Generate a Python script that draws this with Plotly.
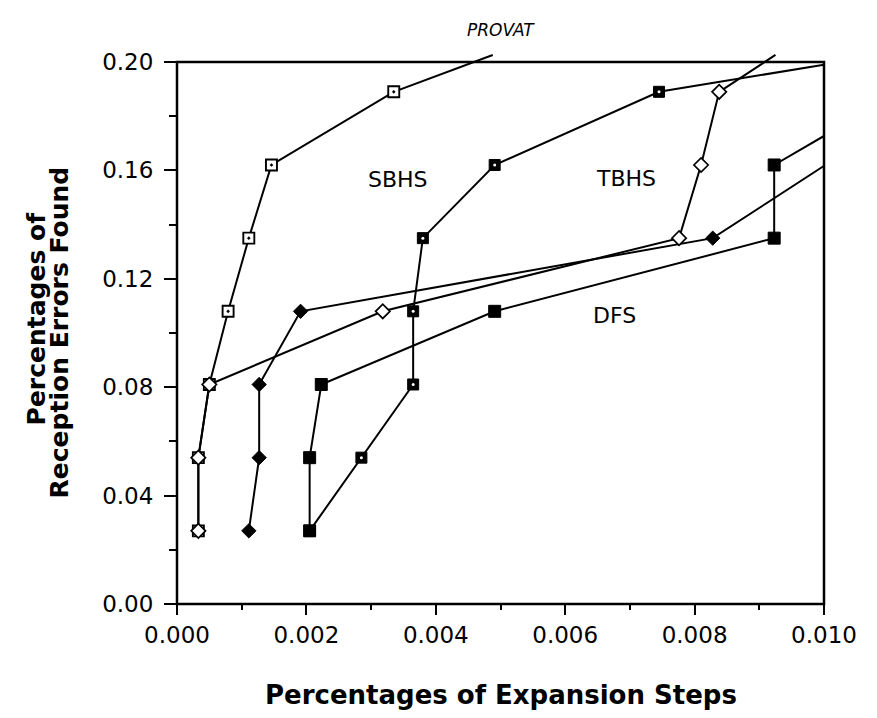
import plotly.graph_objects as go

# ---- data ----
x_ticks = [0.000, 0.002, 0.004, 0.006, 0.008, 0.010]
x_tick_labels = ["0.000", "0.002", "0.004", "0.006", "0.008", "0.010"]
y_ticks = [0.00, 0.04, 0.08, 0.12, 0.16, 0.20]
y_tick_labels = ["0.00", "0.04", "0.08", "0.12", "0.16", "0.20"]

# last point of some series is only the continuation of the line (no marker)
sbhs_x = [0.00033, 0.00033, 0.00050, 0.00079, 0.00111, 0.00146, 0.00335, 0.00488]
sbhs_y = [0.027, 0.054, 0.081, 0.108, 0.135, 0.162, 0.189, 0.2026]

odia_x = [0.00033, 0.00033, 0.00050, 0.00318, 0.00776, 0.00810, 0.00838, 0.00925]
odia_y = [0.027, 0.054, 0.081, 0.108, 0.135, 0.162, 0.189, 0.2026]

ds_x = [0.00111, 0.00127, 0.00127, 0.00191, 0.00828, 0.01002]
ds_y = [0.027, 0.054, 0.081, 0.108, 0.135, 0.162]

tbhs_x = [0.00205, 0.00285, 0.00365, 0.00365, 0.00380, 0.00491, 0.00745, 0.01000]
tbhs_y = [0.027, 0.054, 0.081, 0.108, 0.135, 0.162, 0.189, 0.199]

dfs_x = [0.00205, 0.00205, 0.00223, 0.00491, 0.00923, 0.00923, 0.01000]
dfs_y = [0.027, 0.054, 0.081, 0.108, 0.135, 0.162, 0.1727]

labels = ["SBHS", "TBHS", "DFS", "DS"]
label_x = [0.00341, 0.00694, 0.00676, 0.01023]
label_y = [0.1565, 0.157, 0.1066, 0.162]

X_MAX = 0.010
Y_MAX = 0.20
Y_TOP = 0.20295   # a little headroom so the lines can run past the frame

BLACK = "black"
LW = 2

fig = go.Figure()

def line(xs, ys):
    fig.add_trace(go.Scatter(x=xs, y=ys, mode="lines",
                             line=dict(color=BLACK, width=LW),
                             cliponaxis=False, showlegend=False, hoverinfo="skip"))

def marks(xs, ys, symbol, color, lcolor, size, lw=1.5):
    fig.add_trace(go.Scatter(x=xs, y=ys, mode="markers",
                             marker=dict(symbol=symbol, color=color, size=size,
                                         line=dict(color=lcolor, width=lw)),
                             cliponaxis=False, showlegend=False))

# lines
line(sbhs_x, sbhs_y)
line(odia_x, odia_y)
line(ds_x, ds_y)
line(tbhs_x, tbhs_y)
line(dfs_x, dfs_y)

# markers
marks(sbhs_x[:-1], sbhs_y[:-1], "square-dot", "white", BLACK, 11, 1.9)
marks(odia_x[:-1], odia_y[:-1], "diamond", "white", BLACK, 11, 1.7)
marks(ds_x, ds_y, "diamond", BLACK, BLACK, 11, 1)
marks(tbhs_x[:-1], tbhs_y[:-1], "square", BLACK, BLACK, 11, 1)
marks(tbhs_x[:-1], tbhs_y[:-1], "circle", "white", "white", 3, 0)
marks(dfs_x[:-1], dfs_y[:-1], "square", BLACK, BLACK, 12, 1)

FONT = "DejaVu Sans"

for t, xv, yv in zip(labels, label_x, label_y):
    fig.add_annotation(x=xv, y=yv, xref="x", yref="y", text=t, showarrow=False,
                       xanchor="left" if t == "DS" else "center", yanchor="middle",
                       font=dict(family=FONT, size=22, color=BLACK))

# title
fig.add_annotation(x=0.5, y=1.0436, xref="paper", yref="paper", text="<i>PROVAT</i>",
                   showarrow=False, xanchor="center", yanchor="middle",
                   font=dict(family=FONT, size=17, color=BLACK))
# x title
fig.add_annotation(x=0.5, y=-0.1655, xref="paper", yref="paper",
                   text="<b>Percentages of Expansion Steps</b>",
                   showarrow=False, xanchor="center", yanchor="middle",
                   font=dict(family=FONT, size=26, color=BLACK))
# y title (two lines)
fig.add_annotation(x=-0.2173, y=0.52, xref="paper", yref="paper",
                   text="<b>Percentages of</b>", textangle=-90,
                   showarrow=False, xanchor="center", yanchor="middle",
                   font=dict(family=FONT, size=25, color=BLACK))
fig.add_annotation(x=-0.1818, y=0.4945, xref="paper", yref="paper",
                   text="<b>Reception Errors Found</b>", textangle=-90,
                   showarrow=False, xanchor="center", yanchor="middle",
                   font=dict(family=FONT, size=25, color=BLACK))

# plot frame (the box around the data area), in paper units so it is not clipped
fig.add_shape(type="rect", xref="paper", yref="paper", x0=0, x1=1,
              y0=0, y1=Y_MAX / Y_TOP,
              line=dict(color=BLACK, width=2.5), fillcolor="rgba(0,0,0,0)", layer="above")

fig.update_layout(
    width=861, height=702,
    margin=dict(l=169, r=43, t=46, b=106),
    paper_bgcolor="white", plot_bgcolor="white",
    font=dict(family=FONT, color=BLACK),
    xaxis=dict(range=[0, X_MAX], showgrid=False, zeroline=False, showline=False,
               ticks="outside", ticklen=10, tickwidth=2, tickcolor=BLACK,
               tickvals=x_ticks, ticktext=x_tick_labels,
               tickfont=dict(family=FONT, size=23, color=BLACK),
               ticklabelstandoff=0,
               minor=dict(dtick=0.001, ticks="outside", ticklen=5, tickwidth=2,
                          tickcolor=BLACK, showgrid=False)),
    yaxis=dict(range=[0, Y_TOP], showgrid=False, zeroline=False, showline=False,
               ticks="outside", ticklen=12, tickwidth=2, tickcolor=BLACK,
               tickvals=y_ticks, ticktext=y_tick_labels,
               tickfont=dict(family=FONT, size=23, color=BLACK),
               ticklabelstandoff=6,
               minor=dict(tickvals=[0.02, 0.06, 0.10, 0.14, 0.18], ticks="outside",
                          ticklen=7, tickwidth=2, tickcolor=BLACK, showgrid=False)),
)

fig.write_html("out.html")
